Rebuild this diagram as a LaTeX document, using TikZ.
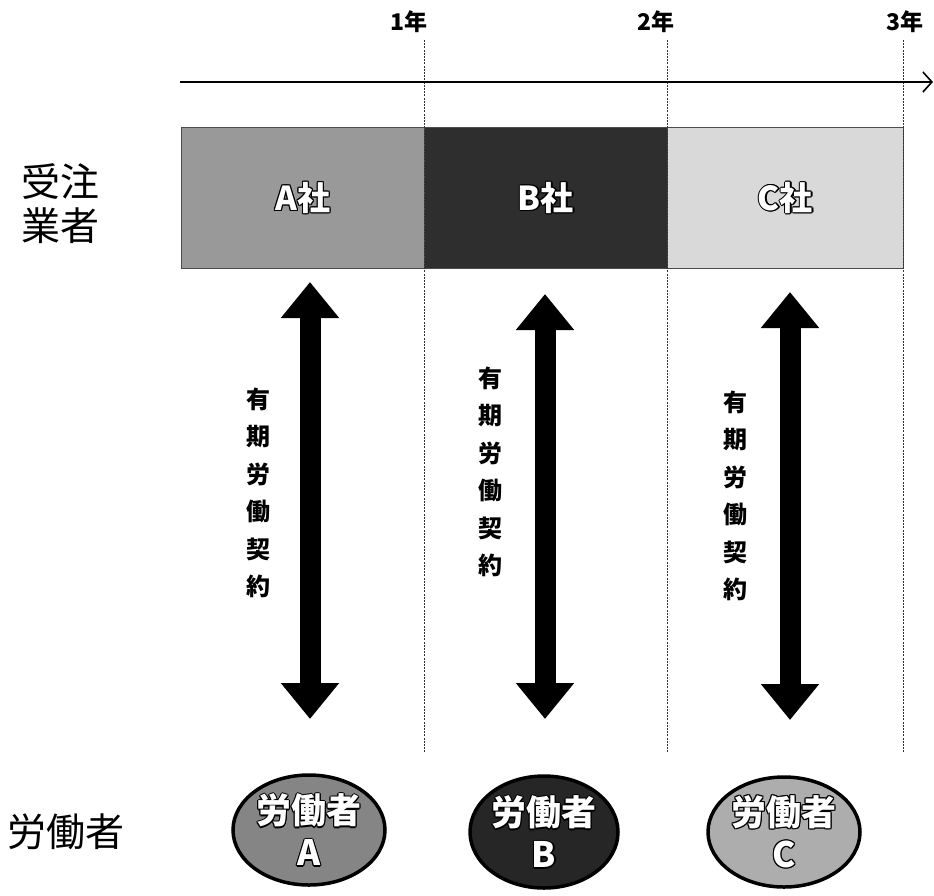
\documentclass[tikz,border=0pt]{standalone}
\usepackage{fontspec}
\setmainfont{Noto Sans CJK JP}
\usetikzlibrary{arrows.meta,shapes.geometric}
\definecolor{boxA}{gray}{0.60}
\definecolor{boxB}{gray}{0.18}
\definecolor{boxC}{gray}{0.85}
\definecolor{ellA}{gray}{0.52}
\definecolor{ellB}{gray}{0.15}
\definecolor{ellC}{gray}{0.68}
\tikzset{
  company/.style={draw=black!70, line width=0.8pt, minimum width=243pt, minimum height=141pt, inner sep=0pt, anchor=north west},
  worker/.style={ellipse, draw=black, line width=3.5pt, minimum width=152pt, minimum height=110pt, inner sep=0pt},
  yearlbl/.style={font=\fontsize{23}{26}\selectfont\bfseries, inner sep=0pt},
  sidelbl/.style={font=\fontsize{39}{44}\selectfont, align=center, inner sep=0pt},
  contractlbl/.style={font=\fontsize{24}{37.5}\selectfont\bfseries, align=center, inner sep=0pt},
  grid/.style={black!80, line width=0.9pt, dash pattern=on 2pt off 1.2pt},
  bigarrow/.style={line width=21pt, {Triangle[width=56pt,length=36pt]}-{Triangle[width=56pt,length=36pt]}},
  otxt/.style={inner sep=0pt, align=center},
  boxtxt/.style={otxt, font=\fontsize{33}{38}\selectfont\bfseries},
  elltxt/.style={otxt, font=\fontsize{35}{42}\selectfont\bfseries}
}
% outlined white text: #1 style, #2 position, #3 name, #4 text
\newcommand\outlinedtext[4]{%
  \foreach \dx/\dy in {-1.2/0,1.2/0,0/-1.2,0/1.2,-0.9/-0.9,0.9/0.9,-0.9/0.9,0.9/-0.9}
    \node[#1, text=black] at ([shift={(\dx pt,\dy pt)}]#2) {#4};
  \node[#1, text=white] (#3) at (#2) {#4};}
\begin{document}
\begin{tikzpicture}[x=1pt,y=-1pt]
\useasboundingbox (0,0) rectangle (934,895);
% boxes
\node[company, fill=boxA] (bA) at (181,127) {};
\node[company, fill=boxB] (bB) at (424,127) {};
\node[company, fill=boxC, minimum width=236pt] (bC) at (667,127) {};
% grid lines
\coordinate (g1t) at (424,40); \coordinate (g1b) at (424,752);
\coordinate (g2t) at (667,40); \coordinate (g2b) at (667,752);
\coordinate (g3t) at (903,40); \coordinate (g3b) at (903,752);
\draw[grid] (g1t) -- (g1b);
\draw[grid] (g2t) -- (g2b);
\draw[grid] (g3t) -- (g3b);
% axis
\coordinate (ax0) at (180,82); \coordinate (ax1) at (933,82);
\draw[line width=1.2pt, -{Straight Barb[length=9pt,width=20pt,line width=1.6pt]}] (ax0) -- (ax1);
\node[yearlbl] (y1) at (409,22) {1年};
\node[yearlbl] (y2) at (656,22) {2年};
\node[yearlbl] (y3) at (905,22) {3年};
% side labels
\node[sidelbl] (sl1) at (60,204) {受注\\業者};
\node[sidelbl] (sl2) at (66,832) {労働者};
% workers
\node[worker, fill=ellA] (wA) at (309,830) {};
\node[worker, fill=ellB, minimum width=148pt, minimum height=112pt] (wB) at (544,832) {};
\node[worker, fill=ellC] (wC) at (784,832) {};
% texts
\outlinedtext{boxtxt}{bA.center}{tA}{A社}
\outlinedtext{boxtxt}{bB.center}{tB}{B社}
\outlinedtext{boxtxt}{bC.center}{tC}{C社}
\outlinedtext{elltxt}{wA.center}{twA}{労働者\\A}
\outlinedtext{elltxt}{wB.center}{twB}{労働者\\B}
\outlinedtext{elltxt}{wC.center}{twC}{労働者\\C}
% arrows
\coordinate (aAt) at (310,282); \coordinate (aAb) at (310,719);
\coordinate (aBt) at (545,294); \coordinate (aBb) at (545,719);
\coordinate (aCt) at (790,292); \coordinate (aCb) at (790,720);
\draw[bigarrow] (aAt) -- (aAb);
\draw[bigarrow] (aBt) -- (aBb);
\draw[bigarrow] (aCt) -- (aCb);
% contract labels
\node[contractlbl] (cA) at (258,493) {有\\期\\労\\働\\契\\約};
\node[contractlbl] (cB) at (490,472) {有\\期\\労\\働\\契\\約};
\node[contractlbl] (cC) at (735,496) {有\\期\\労\\働\\契\\約};
\end{tikzpicture}
\end{document}
